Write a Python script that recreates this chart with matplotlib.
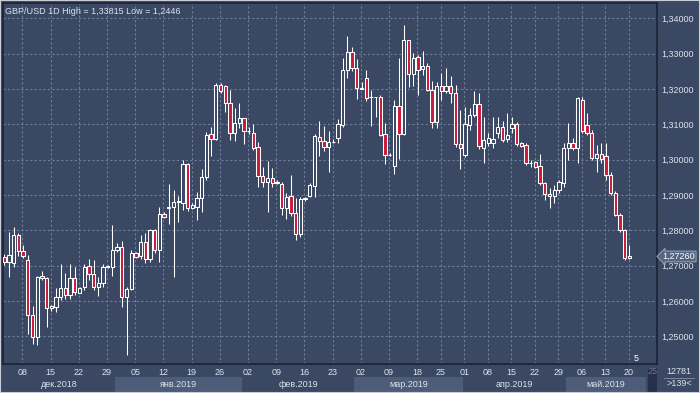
import numpy as np
import matplotlib
matplotlib.use('Agg')
import matplotlib.pyplot as plt
from matplotlib.patches import Rectangle

plt.rcParams['font.family'] = ['Liberation Sans', 'DejaVu Sans']

# Свечи GBP/USD, дневки (индекс = номер бара)
opens = [1.2725, 1.2709, 1.2708, 1.2787, 1.2741, 1.2716, 1.2559, 1.2498, 1.2671, 1.2664,
         1.2579, 1.2583, 1.2610, 1.2636, 1.2616, 1.2664, 1.2624, 1.2640, 1.2699, 1.2676,
         1.2640, 1.2652, 1.2697, 1.2697, 1.2744, 1.2752, 1.2610, 1.2633, 1.2737, 1.2726,
         1.2768, 1.2718, 1.2801, 1.2744, 1.2845, 1.2862, 1.2867, 1.2881, 1.2878, 1.2987,
         1.2864, 1.2867, 1.2892, 1.2952, 1.3072, 1.3058, 1.3211, 1.3208, 1.3161, 1.3076,
         1.3103, 1.3117, 1.3082, 1.3076, 1.3035, 1.2954, 1.2936, 1.2947, 1.2935, 1.2931,
         1.2862, 1.2896, 1.2848, 1.2791, 1.2888, 1.2898, 1.2926, 1.3065, 1.3054, 1.3037,
         1.3050, 1.3060, 1.3098, 1.3254, 1.3304, 1.3258, 1.3202, 1.3230, 1.3176, 1.3176,
         1.3176, 1.3072, 1.3013, 1.2983, 1.3152, 1.3072, 1.3339, 1.3242, 1.3290, 1.3256,
         1.3266, 1.3197, 1.3107, 1.3208, 1.3195, 1.3208, 1.3188, 1.3044, 1.3013, 1.3098,
         1.3126, 1.3157, 1.3032, 1.3048, 1.3048, 1.3075, 1.3093, 1.3058, 1.3089, 1.3101,
         1.3046, 1.3042, 1.2990, 1.2992, 1.2982, 1.2935, 1.2897, 1.2897, 1.2914, 1.2935,
         1.3032, 1.3048, 1.3032, 1.3169, 1.3098, 1.3075, 1.3004, 1.3016, 1.3009, 1.2957,
         1.2905, 1.2844, 1.2801, 1.2722]
highs = [1.2732, 1.2796, 1.2809, 1.2793, 1.2758, 1.2730, 1.2586, 1.2671, 1.2685, 1.2669,
         1.2589, 1.2636, 1.2705, 1.2678, 1.2705, 1.2695, 1.2640, 1.2705, 1.2720, 1.2716,
         1.2669, 1.2705, 1.2702, 1.2815, 1.2763, 1.2770, 1.2640, 1.2744, 1.2740, 1.2787,
         1.2793, 1.2803, 1.2803, 1.2867, 1.2853, 1.2930, 1.2914, 1.2897, 1.2999, 1.2991,
         1.2878, 1.2909, 1.2973, 1.3079, 1.3093, 1.3216, 1.3218, 1.3211, 1.3197, 1.3145,
         1.3159, 1.3118, 1.3093, 1.3101, 1.3051, 1.2980, 1.2996, 1.2975, 1.2942, 1.2938,
         1.2906, 1.2957, 1.2891, 1.2895, 1.2894, 1.2935, 1.3072, 1.3109, 1.3095, 1.3081,
         1.3058, 1.3114, 1.3288, 1.3350, 1.3318, 1.3284, 1.3221, 1.3254, 1.3197, 1.3177,
         1.3183, 1.3103, 1.3018, 1.3169, 1.3288, 1.33815, 1.3340, 1.3301, 1.3296, 1.3308,
         1.3274, 1.3222, 1.3221, 1.3246, 1.3258, 1.3237, 1.3211, 1.3140, 1.3150, 1.3145,
         1.3195, 1.3188, 1.3122, 1.3075, 1.3120, 1.3120, 1.3110, 1.3131, 1.3120, 1.3106,
         1.3050, 1.3046, 1.2999, 1.2995, 1.3016, 1.2938, 1.2919, 1.2928, 1.2943, 1.3046,
         1.3103, 1.3060, 1.3178, 1.3178, 1.3131, 1.3084, 1.3042, 1.3046, 1.3046, 1.2966,
         1.2910, 1.2850, 1.2803, 1.2759]
lows = [1.2702, 1.2669, 1.2697, 1.2727, 1.2721, 1.2508, 1.2478, 1.2476, 1.2660, 1.2527,
        1.2571, 1.2570, 1.2603, 1.2607, 1.2607, 1.2617, 1.2622, 1.2631, 1.2659, 1.2631,
        1.2614, 1.2640, 1.2694, 1.2670, 1.2738, 1.2582, 1.2446, 1.2630, 1.2721, 1.2718,
        1.2707, 1.2709, 1.2737, 1.2709, 1.2834, 1.2819, 1.2669, 1.2824, 1.2857, 1.2855,
        1.2859, 1.2829, 1.2853, 1.2942, 1.3010, 1.3056, 1.3189, 1.3136, 1.3056, 1.3054,
        1.3089, 1.3044, 1.3072, 1.3026, 1.2923, 1.2923, 1.2853, 1.2923, 1.2930, 1.2843,
        1.2831, 1.2840, 1.2774, 1.2782, 1.2882, 1.2895, 1.2895, 1.3010, 1.3025, 1.2966,
        1.3046, 1.3048, 1.3093, 1.3230, 1.3252, 1.3171, 1.3199, 1.3167, 1.3095, 1.3121,
        1.3067, 1.2988, 1.3010, 1.2959, 1.3001, 1.3070, 1.3206, 1.3208, 1.3183, 1.3240,
        1.3195, 1.3089, 1.3089, 1.3169, 1.3188, 1.3161, 1.3035, 1.2973, 1.3007, 1.3085,
        1.3120, 1.3030, 1.2990, 1.3040, 1.3032, 1.3060, 1.3050, 1.3050, 1.3076, 1.3040,
        1.3035, 1.2985, 1.2980, 1.2975, 1.2928, 1.2886, 1.2862, 1.2878, 1.2905, 1.2924,
        1.2999, 1.3028, 1.2990, 1.3075, 1.3070, 1.3000, 1.2966, 1.2990, 1.2943, 1.2900,
        1.2840, 1.2795, 1.2715, 1.2718]
closes = [1.2709, 1.2731, 1.2787, 1.2741, 1.2726, 1.2559, 1.2498, 1.2669, 1.2664, 1.2579,
          1.2586, 1.2610, 1.2636, 1.2616, 1.2664, 1.2626, 1.2636, 1.2697, 1.2676, 1.2640,
          1.2652, 1.2697, 1.2698, 1.2744, 1.2752, 1.2610, 1.2633, 1.2737, 1.2724, 1.2766,
          1.2718, 1.2801, 1.2744, 1.2845, 1.2838, 1.2867, 1.2881, 1.2882, 1.2987, 1.2862,
          1.2872, 1.2892, 1.2950, 1.3070, 1.3058, 1.3211, 1.3195, 1.3161, 1.3076, 1.3103,
          1.3117, 1.3081, 1.3080, 1.3034, 1.2954, 1.2936, 1.2947, 1.2933, 1.2937, 1.2862,
          1.2893, 1.2848, 1.2791, 1.2888, 1.2891, 1.2928, 1.3067, 1.3054, 1.3037, 1.3051,
          1.3051, 1.3100, 1.3254, 1.3304, 1.3258, 1.3202, 1.3201, 1.3174, 1.3177, 1.3177,
          1.3070, 1.3013, 1.3012, 1.3152, 1.3072, 1.3339, 1.3242, 1.3287, 1.3254, 1.3266,
          1.3197, 1.3107, 1.3208, 1.3195, 1.3208, 1.3188, 1.3044, 1.3032, 1.3101, 1.3126,
          1.3157, 1.3039, 1.3056, 1.3060, 1.3058, 1.3093, 1.3056, 1.3070, 1.3101, 1.3044,
          1.3039, 1.2990, 1.2991, 1.2978, 1.2935, 1.2903, 1.2903, 1.2914, 1.2938, 1.3032,
          1.3048, 1.3032, 1.3174, 1.3080, 1.3075, 1.3004, 1.3016, 1.3001, 1.2957, 1.2905,
          1.2844, 1.2801, 1.2722, 1.2726]

# Ось времени: позиции недельных меток (в барах) и подписи
week_pos = [3.85, 9.85, 15.85, 21.85, 27.85, 33.85, 39.85, 45.85, 51.85, 57.85,
            63.85, 69.85, 75.85, 81.85, 87.85, 92.85, 97.85, 102.85, 107.85,
            112.85, 117.85, 122.85, 127.85, 132.85]
week_labels = ['08', '15', '22', '29', '05', '12', '19', '26', '02', '09',
               '16', '23', '02', '09', '18', '25', '01', '08', '15',
               '22', '29', '06', '13', '20']
month_edges = [-0.3, 23.5, 50.5, 74.5, 97.5, 119.5, 136.6]
month_labels = ['дек.2018', 'янв.2019', 'фев.2019', 'мар.2019', 'апр.2019', 'май.2019']
price_ticks = [1.25, 1.26, 1.27, 1.28, 1.29, 1.30, 1.31, 1.32, 1.33, 1.34]

bg = '#3a4863'
band_light = '#4d5c78'
red = '#c81c3c'
grid_c = '#6d7d9a'
txt = '#dde2ec'
W, H = 700, 393
fs = 6.5

o = np.array(opens)
h = np.array(highs)
l = np.array(lows)
c = np.array(closes)
x = np.arange(len(o))
up = c >= o

fig = plt.figure(figsize=(W / 100, H / 100), dpi=100, facecolor=bg)

# основная область графика
L, R, T, B = 3, 657, 3, 364
ax = fig.add_axes([L / W, 1 - B / H, (R - L) / W, (B - T) / H], facecolor=bg)
ax.set_xlim(-0.28, 138.87)
ax.set_ylim(1.24217, 1.34433)

ax.vlines(x, l, h, color='white', linewidth=0.75, zorder=3)
body = np.maximum(np.abs(c - o), 0.00003)
ax.bar(x, body, bottom=np.minimum(o, c), width=0.7,
       color=np.where(up, bg, red), edgecolor='white', linewidth=0.75, zorder=4)

ax.set_yticks(price_ticks)
ax.set_yticklabels([f'{p:.5f}'.replace('.', ',') for p in price_ticks])
ax.yaxis.tick_right()
ax.set_xticks(week_pos)
ax.set_xticklabels(week_labels)
ax.tick_params(axis='both', length=0, colors=txt, labelsize=fs)
ax.tick_params(axis='y', pad=3)
ax.tick_params(axis='x', pad=3)
ax.grid(True, color=grid_c, linestyle=(0, (2, 2)), linewidth=0.8, zorder=1)
for s in ax.spines.values():
    s.set_color('#1b2233')
    s.set_linewidth(1.2)

ax.text(0.003, 0.988, 'GBP/USD 1D High = 1,33815 Low = 1,2446', transform=ax.transAxes,
        color=txt, fontsize=fs, va='top', ha='left')
ax.text(134.5, 1.2436, '5', color='white', fontsize=fs, va='center', ha='center')

# метка текущей цены
last = c[-1]
ax.annotate(f'{last:.5f}'.replace('.', ','), xy=(1, last), xycoords=('axes fraction', 'data'),
            xytext=(4, 0), textcoords='offset points', va='center', ha='left',
            color='white', fontsize=fs,
            bbox=dict(boxstyle='larrow,pad=0.1', fc='#56657f', ec='#a9b3c4', lw=0.6))

# полосы месяцев под осью
axm = fig.add_axes([L / W, 0, (R - L) / W, (H - B) / H])
axm.set_xlim(ax.get_xlim())
axm.set_ylim(H - B, 0)
axm.axis('off')
for i, name in enumerate(month_labels):
    a, b = month_edges[i], month_edges[i + 1]
    if i % 2 == 1:
        axm.add_patch(Rectangle((a, 13), b - a, 15, color=band_light, lw=0))
    axm.text((a + b) / 2, 20.5, name, color=txt, fontsize=fs, ha='center', va='center')
axm.add_patch(Rectangle((136.9, 4), 1.9, 24, color='#26304a', lw=0))
axm.text(137.85, 8, '25', color='#6d7890', fontsize=fs, ha='center', va='center')

# правый нижний угол
fig.text(679 / W, 1 - 372 / H, '12781', color=txt, fontsize=fs, ha='center', va='center')
fig.text(679 / W, 1 - 384 / H, '>139<', color=txt, fontsize=fs, ha='center', va='center')
fig.add_artist(plt.Line2D([664 / W, 694 / W], [1 - 377.5 / H] * 2, color='#8893a8', lw=0.6))

# светлая рамка по краю картинки
fig.add_artist(Rectangle((0, 0), 1, 1, transform=fig.transFigure, fill=False,
                         ec='#c9ced8', lw=1.5))

fig.savefig('out.png', dpi=100, facecolor=bg)
